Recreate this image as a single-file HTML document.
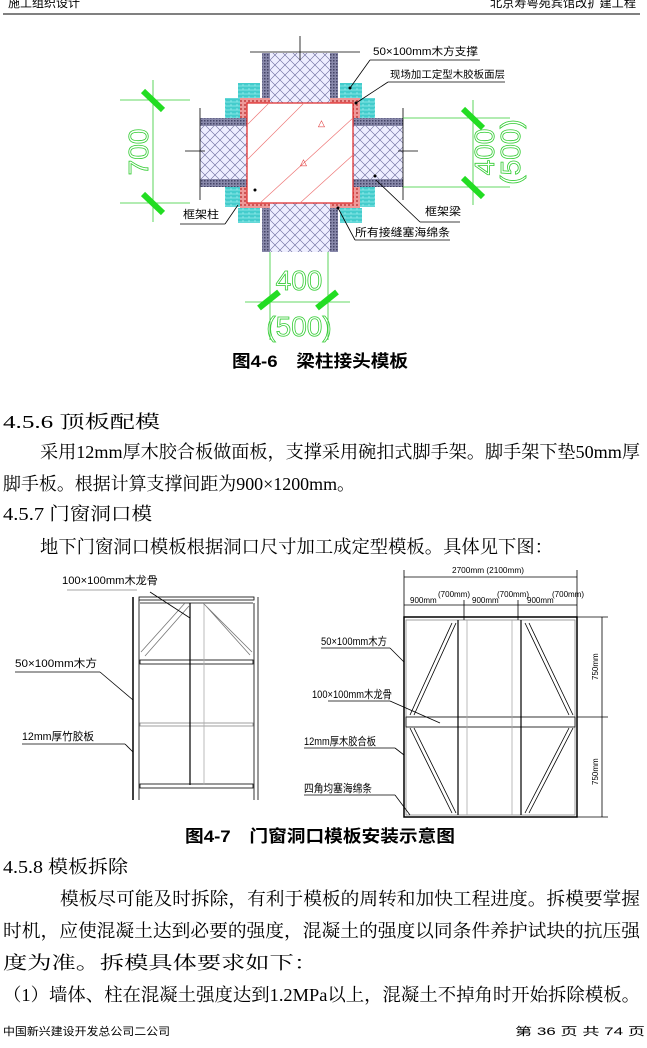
<!DOCTYPE html>
<html><head><meta charset="utf-8"><style>
html,body{margin:0;padding:0;background:#fff;}
svg{display:block;}
.t{font-family:"Liberation Serif","Noto Serif CJK SC",serif;font-size:18px;fill:#000;}
.s{font-family:"Liberation Sans","Noto Sans CJK SC",sans-serif;fill:#000;}
.b{font-family:"Liberation Sans","Noto Sans CJK SC",sans-serif;font-weight:bold;font-size:17px;fill:#000;}
.g{font-family:"Liberation Sans",sans-serif;fill:none;stroke:#3c3;stroke-width:0.8;font-size:28px;}
</style></head><body>
<svg width="647" height="1048" viewBox="0 0 647 1048" xmlns="http://www.w3.org/2000/svg">
<defs>
<pattern id="xh" width="10" height="10" patternUnits="userSpaceOnUse"><rect width="10" height="10" fill="#eef"/><path d="M0 0L10 10M10 0L0 10" stroke="#669" stroke-width="0.6"/></pattern>
<pattern id="bl" width="3" height="3" patternUnits="userSpaceOnUse"><rect width="3" height="3" fill="#88a"/><rect width="1.5" height="1.5" fill="#446"/></pattern>
<pattern id="cy" width="6" height="4" patternUnits="userSpaceOnUse"><rect width="6" height="4" fill="#4cc"/><path d="M0 2H6M3 0V2" stroke="#9ee" stroke-width="0.8"/></pattern>
<pattern id="rd" width="4" height="4" patternUnits="userSpaceOnUse"><rect width="4" height="4" fill="#e99"/><rect width="2" height="2" fill="#c55"/></pattern>
</defs>
<text class="s" x="8" y="7" font-size="12" textLength="72" lengthAdjust="spacingAndGlyphs">施工组织设计</text>
<text class="s" x="490" y="7" font-size="12" textLength="146" lengthAdjust="spacingAndGlyphs">北京寿粤苑宾馆改扩建工程</text>
<line x1="3" y1="14" x2="640" y2="14" stroke="#000" stroke-width="1"/>

<g>
<rect x="200" y="118" width="203" height="69" fill="url(#xh)"/>
<rect x="200" y="118" width="47" height="8" fill="url(#bl)"/><rect x="200" y="179" width="47" height="8" fill="url(#bl)"/>
<rect x="353" y="118" width="50" height="8" fill="url(#bl)"/><rect x="353" y="179" width="50" height="8" fill="url(#bl)"/>
<rect x="262" y="53" width="76" height="199" fill="url(#xh)"/>
<rect x="262" y="53" width="8" height="50" fill="url(#bl)"/><rect x="330" y="53" width="8" height="50" fill="url(#bl)"/>
<rect x="262" y="203" width="8" height="49" fill="url(#bl)"/><rect x="330" y="203" width="8" height="49" fill="url(#bl)"/>
<path d="M240 98H270V103H247V118H240Z M330 98H360V118H353V103H330Z M240 187H247V203H270V208H240Z M353 187H360V208H330V203H353Z" fill="url(#rd)"/>
<rect x="247" y="103" width="106" height="100" fill="#fff" stroke="#d22" stroke-width="1.2"/>
<path d="M247 160L304 103M260 203L353 118M300 203L353 155M247 125L269 103" stroke="#e77" stroke-width="0.7"/>
<text x="318" y="126" font-size="9" fill="#d22" font-family="Liberation Sans">△</text>
<text x="300" y="165" font-size="9" fill="#d22" font-family="Liberation Sans">△</text>
<rect x="238" y="83" width="22" height="15" fill="url(#cy)"/><rect x="225" y="98" width="15" height="20" fill="url(#cy)"/>
<rect x="340" y="83" width="22" height="15" fill="url(#cy)"/><rect x="360" y="98" width="15" height="20" fill="url(#cy)"/>
<rect x="225" y="187" width="15" height="20" fill="url(#cy)"/><rect x="238" y="208" width="22" height="15" fill="url(#cy)"/>
<rect x="360" y="187" width="15" height="20" fill="url(#cy)"/><rect x="340" y="208" width="22" height="15" fill="url(#cy)"/>
<g stroke="#000" stroke-width="0.8" fill="none">
<line x1="250" y1="52" x2="360" y2="52"/><line x1="200" y1="108" x2="200" y2="200"/><line x1="403" y1="108" x2="403" y2="200"/>
<line x1="300" y1="36" x2="300" y2="60"/><line x1="185" y1="151" x2="205" y2="151"/><line x1="398" y1="151" x2="418" y2="151"/>
<line x1="370" y1="60" x2="480" y2="60"/><line x1="370" y1="60" x2="350" y2="88"/>
<line x1="388" y1="82" x2="505" y2="82"/><line x1="388" y1="82" x2="356" y2="103"/>
<line x1="180" y1="224" x2="225" y2="224"/><line x1="225" y1="224" x2="238" y2="205"/>
<line x1="355" y1="240" x2="450" y2="240"/><line x1="355" y1="240" x2="338" y2="208"/>
<line x1="420" y1="222" x2="460" y2="222"/><line x1="420" y1="222" x2="376" y2="180"/>
</g>
<g fill="#000"><circle cx="350" cy="88" r="1.5"/><circle cx="356" cy="103" r="1.5"/><circle cx="255" cy="190" r="1.5"/><circle cx="375" cy="176" r="1.5"/><circle cx="338" cy="208" r="1.5"/></g>
<text class="s" x="373" y="55" font-size="11" textLength="105" lengthAdjust="spacingAndGlyphs">50×100mm木方支撑</text>
<text class="s" x="390" y="78" font-size="10" textLength="115" lengthAdjust="spacingAndGlyphs">现场加工定型木胶板面层</text>
<text class="s" x="425" y="215" font-size="11" textLength="36" lengthAdjust="spacingAndGlyphs">框架梁</text>
<text class="s" x="183" y="218" font-size="11" textLength="36" lengthAdjust="spacingAndGlyphs">框架柱</text>
<text class="s" x="355" y="236" font-size="11" textLength="95" lengthAdjust="spacingAndGlyphs">所有接缝塞海绵条</text>
<g stroke="#3c3" stroke-width="0.8">
<line x1="153" y1="80" x2="153" y2="222"/><line x1="120" y1="100" x2="190" y2="100"/><line x1="120" y1="203" x2="190" y2="203"/>
<line x1="473" y1="100" x2="473" y2="205"/><line x1="403" y1="118" x2="510" y2="118"/><line x1="403" y1="187" x2="510" y2="187"/>
<line x1="270" y1="252" x2="270" y2="340"/><line x1="328" y1="252" x2="328" y2="340"/><line x1="245" y1="302" x2="350" y2="302"/>
</g>
<g stroke="#2d2" stroke-width="6">
<line x1="143" y1="91" x2="163" y2="110"/><line x1="143" y1="194" x2="163" y2="213"/>
<line x1="463" y1="109" x2="483" y2="128"/><line x1="463" y1="178" x2="483" y2="197"/>
<line x1="259" y1="308" x2="279" y2="292"/><line x1="317" y1="308" x2="337" y2="292"/>
</g>
<text class="g" transform="translate(148,152) rotate(-90)" text-anchor="middle">700</text>
<text class="g" transform="translate(494,152) rotate(-90)" text-anchor="middle">400</text>
<text class="g" transform="translate(520,152) rotate(-90)" text-anchor="middle">(500)</text>
<text class="g" x="299" y="290" text-anchor="middle">400</text>
<text class="g" x="299" y="336" text-anchor="middle">(500)</text>
</g>
<text class="b" x="232" y="367" textLength="176" lengthAdjust="spacingAndGlyphs">图4-6　梁柱接头模板</text>

<text class="t" x="3" y="428" textLength="157" lengthAdjust="spacingAndGlyphs">4.5.6 顶板配模</text>
<text class="t" x="40" y="458" textLength="600" lengthAdjust="spacingAndGlyphs">采用12mm厚木胶合板做面板，支撑采用碗扣式脚手架。脚手架下垫50mm厚</text>
<text class="t" x="3" y="490" textLength="352" lengthAdjust="spacingAndGlyphs">脚手板。根据计算支撑间距为900×1200mm。</text>
<text class="t" x="3" y="520" textLength="149" lengthAdjust="spacingAndGlyphs">4.5.7 门窗洞口模</text>
<text class="t" x="40" y="553" textLength="513" lengthAdjust="spacingAndGlyphs">地下门窗洞口模板根据洞口尺寸加工成定型模板。具体见下图：</text>

<g stroke="#000" fill="none" stroke-width="0.8">
<line x1="133" y1="597" x2="133" y2="800" stroke-width="1.5"/><line x1="139" y1="600" x2="139" y2="800"/>
<line x1="258" y1="597" x2="258" y2="800"/><line x1="254" y1="603" x2="254" y2="800"/>
<rect x="139" y="597" width="115" height="3" fill="#fff"/>
<line x1="140" y1="603" x2="253" y2="603"/>
<rect x="140" y="660" width="113" height="4"/><rect x="140" y="723" width="113" height="3" stroke="#888"/><rect x="140" y="784" width="113" height="4"/>
<line x1="190" y1="603" x2="190" y2="785" stroke-width="1.2"/><line x1="204" y1="603" x2="204" y2="785" stroke="#aaa"/>
<path d="M141 652L185 603M145 656L189 606M203 603L252 652M206 606L250 655" stroke="#777"/>
<line x1="67" y1="590" x2="137" y2="590" stroke="#888"/><line x1="150" y1="592" x2="190" y2="618"/>
<line x1="15" y1="672" x2="100" y2="672"/><line x1="100" y1="672" x2="133" y2="700"/>
<line x1="22" y1="744" x2="125" y2="744"/><line x1="125" y1="744" x2="133" y2="752"/>
</g>
<text class="s" x="62" y="584" font-size="11" textLength="96" lengthAdjust="spacingAndGlyphs">100×100mm木龙骨</text>
<text class="s" x="15" y="667" font-size="11" textLength="82" lengthAdjust="spacingAndGlyphs">50×100mm木方</text>
<text class="s" x="22" y="740" font-size="11" textLength="72" lengthAdjust="spacingAndGlyphs">12mm厚竹胶板</text>

<g stroke="#000" fill="none" stroke-width="0.8">
<rect x="404" y="617" width="173" height="200" stroke-width="1.5"/>
<rect x="406" y="620" width="169" height="195" stroke="#888"/>
<rect x="406" y="717" width="169" height="10" fill="#fff"/>
<line x1="458" y1="620" x2="458" y2="815" stroke-width="1.2"/><line x1="467" y1="620" x2="467" y2="815" stroke="#aaa"/>
<line x1="512" y1="620" x2="512" y2="815" stroke="#aaa"/><line x1="521" y1="620" x2="521" y2="815" stroke-width="1.2"/>
<path d="M410 715L452 623M414 715L456 623M410 728L452 813M414 728L456 813M525 623L569 715M529 623L573 715M525 813L569 728M529 813L573 728"/>
<line x1="404" y1="577" x2="577" y2="577"/><line x1="404" y1="570" x2="404" y2="620"/><line x1="577" y1="570" x2="577" y2="620"/>
<line x1="404" y1="605" x2="577" y2="605"/><line x1="464" y1="600" x2="464" y2="620"/><line x1="518" y1="600" x2="518" y2="620"/>
<line x1="602" y1="617" x2="602" y2="817"/><line x1="577" y1="617" x2="608" y2="617"/><line x1="577" y1="717" x2="608" y2="717"/><line x1="577" y1="817" x2="608" y2="817"/>
<line x1="321" y1="648" x2="390" y2="648"/><line x1="390" y1="648" x2="404" y2="662"/>
<line x1="328" y1="701" x2="390" y2="701"/><line x1="390" y1="701" x2="440" y2="723"/>
<line x1="304" y1="748" x2="395" y2="748"/><line x1="395" y1="748" x2="404" y2="755"/>
<line x1="304" y1="795" x2="395" y2="795"/><line x1="395" y1="795" x2="410" y2="815"/>
</g>
<g class="s" font-size="8">
<text x="452" y="573" textLength="72" lengthAdjust="spacingAndGlyphs">2700mm (2100mm)</text>
<text x="410" y="603">900mm</text><text x="438" y="597">(700mm)</text>
<text x="472" y="603">900mm</text><text x="497" y="597">(700mm)</text>
<text x="527" y="603">900mm</text><text x="552" y="597">(700mm)</text>
<text transform="translate(598,680) rotate(-90)">750mm</text>
<text transform="translate(598,785) rotate(-90)">750mm</text>
</g>
<text class="s" x="321" y="645" font-size="11" textLength="66" lengthAdjust="spacingAndGlyphs">50×100mm木方</text>
<text class="s" x="312" y="698" font-size="11" textLength="80" lengthAdjust="spacingAndGlyphs">100×100mm木龙骨</text>
<text class="s" x="304" y="745" font-size="11" textLength="72" lengthAdjust="spacingAndGlyphs">12mm厚木胶合板</text>
<text class="s" x="304" y="792" font-size="11" textLength="68" lengthAdjust="spacingAndGlyphs">四角均塞海绵条</text>

<text class="b" x="185" y="842" textLength="270" lengthAdjust="spacingAndGlyphs">图4-7　门窗洞口模板安装示意图</text>

<text class="t" x="3" y="873" textLength="125" lengthAdjust="spacingAndGlyphs">4.5.8 模板拆除</text>
<text class="t" x="60" y="905" textLength="580" lengthAdjust="spacingAndGlyphs">模板尽可能及时拆除，有利于模板的周转和加快工程进度。拆模要掌握</text>
<text class="t" x="3" y="937" textLength="637" lengthAdjust="spacingAndGlyphs">时机，应使混凝土达到必要的强度，混凝土的强度以同条件养护试块的抗压强</text>
<text class="t" x="3" y="969" textLength="315" lengthAdjust="spacingAndGlyphs">度为准。拆模具体要求如下：</text>
<text class="t" x="3" y="1001" textLength="637" lengthAdjust="spacingAndGlyphs">（1）墙体、柱在混凝土强度达到1.2MPa以上，混凝土不掉角时开始拆除模板。</text>

<text class="s" x="3" y="1035" font-size="11" textLength="167" lengthAdjust="spacingAndGlyphs">中国新兴建设开发总公司二公司</text>
<text class="s" x="515" y="1035" font-size="11" textLength="130" lengthAdjust="spacingAndGlyphs">第 36 页 共 74 页</text>
</svg>
</body></html>
